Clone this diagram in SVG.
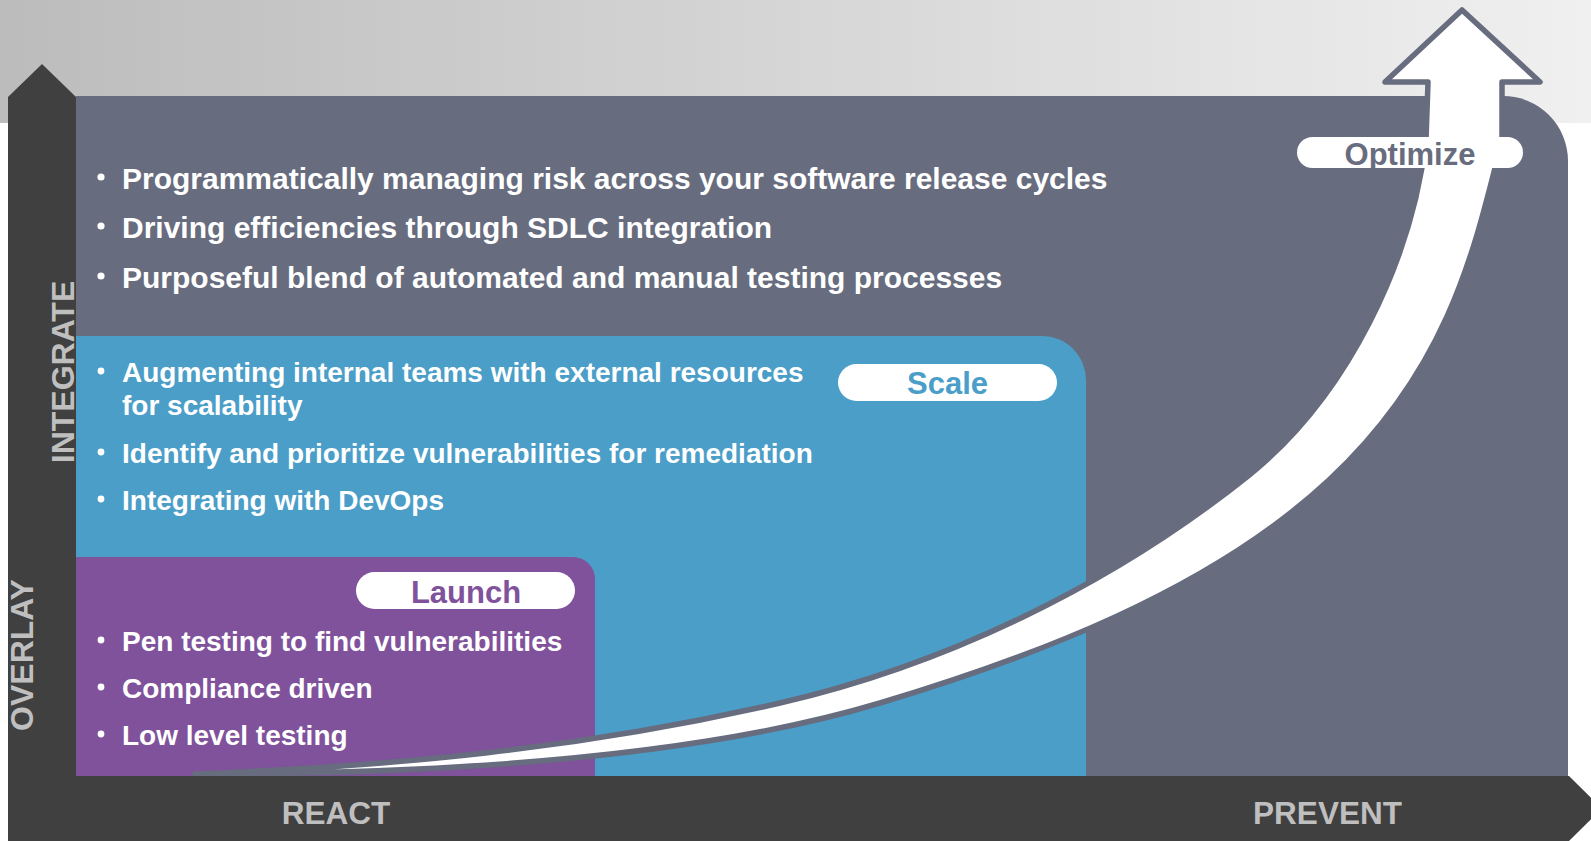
<svg xmlns="http://www.w3.org/2000/svg" width="1591" height="841" viewBox="0 0 1591 841">
  <defs>
    <linearGradient id="bandFill" x1="0" y1="0" x2="1" y2="0">
      <stop offset="0" stop-color="#bcbcbc"/>
      <stop offset="1" stop-color="#f0f0f0"/>
    </linearGradient>
    <style>
      .t { font-family: "Liberation Sans", Arial, Helvetica, sans-serif; font-weight: bold; }
      .big { font-size: 30px; fill: #ffffff; }
      .mid { font-size: 28px; fill: #ffffff; }
      .axis { font-size: 32px; fill: #bfbfbf; text-anchor: middle; }
      .lbl { font-size: 31px; text-anchor: middle; }
      .pill { fill: #ffffff; }
      .dot { fill: #ffffff; }
      .dark { fill: #404040; }
    </style>
  </defs>

  <!-- background -->
  <rect x="0" y="0" width="1591" height="841" fill="#ffffff"/>
  <rect x="0" y="0" width="1591" height="123" fill="url(#bandFill)"/>

  <!-- Optimize level -->
  <g id="optimize-panel">
    <path d="M76,96 H1503 A65,65 0 0 1 1568,161 V776 H76 Z" fill="#676c7e"/>
    <circle class="dot" cx="101" cy="177" r="3.6"/>
    <circle class="dot" cx="101" cy="226" r="3.6"/>
    <circle class="dot" cx="101" cy="276" r="3.6"/>
    <text class="t big" x="122" y="189">Programmatically managing risk across your software release cycles</text>
    <text class="t big" x="122" y="238">Driving efficiencies through SDLC integration</text>
    <text class="t big" x="122" y="288">Purposeful blend of automated and manual testing processes</text>
  </g>

  <!-- Scale level -->
  <g id="scale-panel">
    <path d="M76,336 H1042 A44,44 0 0 1 1086,380 V776 H76 Z" fill="#4a9ec8"/>
    <circle class="dot" cx="101" cy="371" r="3.4"/>
    <circle class="dot" cx="101" cy="452" r="3.4"/>
    <circle class="dot" cx="101" cy="499" r="3.4"/>
    <text class="t mid" x="122" y="382">Augmenting internal teams with external resources</text>
    <text class="t mid" x="122" y="415">for scalability</text>
    <text class="t mid" x="122" y="463">Identify and prioritize vulnerabilities for remediation</text>
    <text class="t mid" x="122" y="510">Integrating with DevOps</text>
  </g>

  <!-- Launch level -->
  <g id="launch-panel">
    <path d="M76,557 H573 A22,22 0 0 1 595,579 V776 H76 Z" fill="#7f529b"/>
    <circle class="dot" cx="101" cy="640" r="3.4"/>
    <circle class="dot" cx="101" cy="687" r="3.4"/>
    <circle class="dot" cx="101" cy="734" r="3.4"/>
    <text class="t mid" x="122" y="651">Pen testing to find vulnerabilities</text>
    <text class="t mid" x="122" y="698">Compliance driven</text>
    <text class="t mid" x="122" y="745">Low level testing</text>
  </g>

  <!-- growth arrow sweeping from react to prevent -->
  <g id="connectors">
    <path d="M195,774
             C395,766 580,749 780,703
             C940,666.2 1108,588 1248,476
             C1348,396 1412,260 1426,140
             L1428,82 L1385,82 L1462,10 L1540,82 L1502,82 L1502,140
             C1474.5,250 1449,368 1329,480
             C1209,592 1030,658 880,703
             C680,763 395,774 195,774 Z"
          fill="#ffffff" stroke="#676c7e" stroke-width="5.5" stroke-linejoin="round"/>
  </g>

  <!-- stage labels -->
  <g id="label-optimize">
    <rect class="pill" x="1297" y="137" width="226" height="31" rx="15.5"/>
    <text class="t lbl" x="1410" y="165" fill="#676c7e">Optimize</text>
  </g>
  <g id="label-scale">
    <rect class="pill" x="838" y="364" width="219" height="37" rx="18.5"/>
    <text class="t lbl" x="947.5" y="394" fill="#4a9ec8">Scale</text>
  </g>
  <g id="label-launch">
    <rect class="pill" x="356" y="572" width="219" height="37" rx="18.5"/>
    <text class="t lbl" x="466" y="603" fill="#7f529b">Launch</text>
  </g>

  <!-- axes -->
  <g id="axis-vertical">
    <polygon class="dark" points="8,97 42,64 76,97 76,841 8,841"/>
    <text class="t axis" transform="translate(74,372) rotate(-90)" x="0" y="0">INTEGRATE</text>
    <text class="t axis" transform="translate(33,655) rotate(-90)" x="0" y="0">OVERLAY</text>
  </g>
  <g id="axis-horizontal">
    <polygon class="dark" points="8,776 1569,776 1602,808.5 1569,841 8,841"/>
    <text class="t axis" x="336" y="824" style="font-size:31.5px">REACT</text>
    <text class="t axis" x="1327.5" y="824" style="font-size:31.5px">PREVENT</text>
  </g>
</svg>
